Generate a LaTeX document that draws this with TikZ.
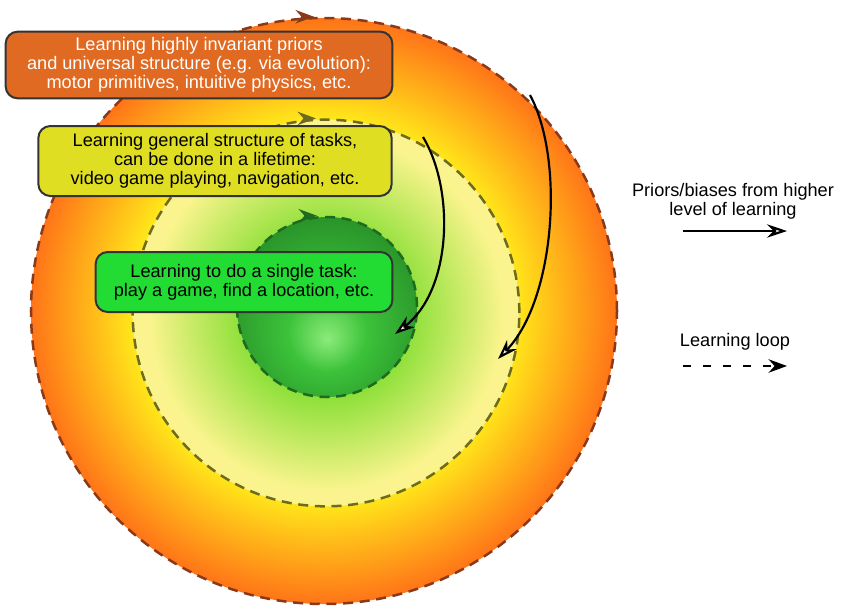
\documentclass[tikz,border=0pt]{standalone}
\usepackage{fontspec}
\setmainfont{Liberation Sans}
\usetikzlibrary{arrows.meta}

\definecolor{outerline}{HTML}{8A3A18}
\definecolor{midline}{HTML}{6E6A1E}
\definecolor{innerline}{HTML}{1E6A1E}
\definecolor{orangebox}{HTML}{E06A22}
\definecolor{yellowbox}{HTML}{E0DE22}
\definecolor{greenbox}{HTML}{22DC34}
\definecolor{ringyellow}{HTML}{FFE61A}
\definecolor{ringorange}{HTML}{FF7418}
\definecolor{midgreen}{HTML}{8EE03A}
\definecolor{midpale}{HTML}{FBF48E}
\definecolor{ballhigh}{HTML}{8CEB7A}
\definecolor{ballmid}{HTML}{3CC23A}
\definecolor{balledge}{HTML}{2A962A}

\pgfdeclareradialshading{outershade}{\pgfpoint{0bp}{0bp}}{%
  color(0bp)=(ringyellow); color(16.5bp)=(ringyellow);
  color(25bp)=(ringorange); color(50bp)=(ringorange)}
\pgfdeclareradialshading{midshade}{\pgfpoint{0bp}{0bp}}{%
  color(0bp)=(midgreen); color(11bp)=(midgreen);
  color(23bp)=(midpale); color(50bp)=(midpale)}
\pgfdeclareradialshading{innershade}{\pgfpoint{0bp}{-9bp}}{%
  color(0bp)=(ballhigh); color(11bp)=(ballmid);
  color(28bp)=(balledge); color(50bp)=(balledge)}

\tikzset{
  ring/.style={circle, draw, line width=0.75mm, dash pattern=on 3mm off 2mm},
  task/.style={draw=black!80, line width=0.6mm, rounded corners=3.6mm, align=center,
    font=\fontsize{15.5}{16}\selectfont},
  prior/.style={line width=0.65mm, -{Stealth[length=6mm, width=4mm, fill=white]}},
  loop/.style={line width=0.8mm, -{Stealth[length=5.5mm, width=4mm]}}
}

\begin{document}
\begin{tikzpicture}[x=0.3mm, y=-0.3mm]
  \useasboundingbox (0,0) rectangle (842,608);

  % nested learning levels
  \node[ring, draw=outerline, shading=outershade, minimum size=175.8mm] (outer) at (324,311) {};
  \node[ring, draw=midline, shading=midshade, minimum size=116mm] (mid) at (326,313) {};
  \node[ring, draw=innerline, shading=innershade, minimum size=54mm] (inner) at (327,307) {};

  \draw[outerline, loop] ([xshift=-7mm]outer.north) -- ([xshift=-3mm]outer.north);
  \draw[midline, loop] ([xshift=-7mm]mid.north) -- ([xshift=-3mm]mid.north);
  \draw[innerline, loop] ([xshift=-7mm]inner.north) -- ([xshift=-3mm]inner.north);

  % labels
  \node[task, fill=orangebox, text=white, minimum width=116mm, minimum height=20mm] (evo) at (199,65)
    {Learning highly invariant priors\\and universal structure (e.g. via evolution):\\motor primitives, intuitive physics, etc.};
  \node[task, fill=yellowbox, minimum width=106mm, minimum height=21mm] (life) at (215,161)
    {Learning general structure of tasks,\\can be done in a lifetime:\\video game playing, navigation, etc.};
  \node[task, fill=greenbox, minimum width=89mm, minimum height=18mm] (single) at (244,282)
    {Learning to do a single task:\\play a game, find a location, etc.};

  % priors passed down
  \coordinate (p1s) at (423,137);
  \coordinate (p1e) at (395,334);
  \coordinate (p2s) at (530,95);
  \coordinate (p2e) at (498,359);
  \draw[prior] (p1s) .. controls (455,190) and (452,290) .. (p1e);
  \draw[prior] (p2s) .. controls (565,160) and (555,300) .. (p2e);

  % legend
  \node[align=center, font=\fontsize{15.5}{16}\selectfont] (legprior) at (733,201)
    {Priors/biases from higher\\level of learning};
  \coordinate (lp1) at (683,231);
  \coordinate (lp2) at (787,231);
  \draw[prior] (lp1) -- (lp2);
  \node[font=\fontsize{15.5}{16}\selectfont] (legloop) at (735,342) {Learning loop};
  \coordinate (ll1) at (683,366);
  \coordinate (ll2) at (787,366);
  \draw[loop, dash pattern=on 2.4mm off 3.6mm] (ll1) -- (ll2);
\end{tikzpicture}
\end{document}
